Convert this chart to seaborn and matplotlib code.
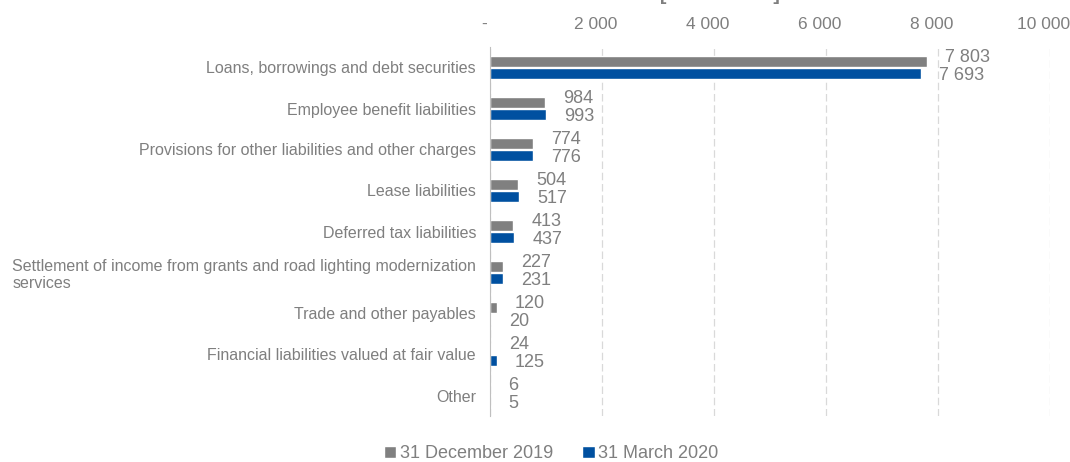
import pandas as pd
import seaborn as sns
import matplotlib.pyplot as plt
from matplotlib.transforms import ScaledTranslation

categories = [
    'Loans, borrowings and debt securities',
    'Employee benefit liabilities',
    'Provisions for other liabilities and other charges',
    'Lease liabilities',
    'Deferred tax liabilities',
    'Settlement of income from grants and road lighting modernization\nservices',
    'Trade and other payables',
    'Financial liabilities valued at fair value',
    'Other',
]
dec_2019 = [7803, 984, 774, 504, 413, 227, 120, 24, 6]
mar_2020 = [7693, 993, 776, 517, 437, 231, 20, 125, 5]
series = ['31 December 2019', '31 March 2020']
xticks = [0, 2000, 4000, 6000, 8000, 10000]
title = 'Structure of non-current liabilities [PLN million]'

GRAY_TXT = '#7f7f7f'
colors = ['#808080', '#0050a0']


def fmt(v):
    return '-' if v == 0 else f'{v:,.0f}'.replace(',', ' ')


df = pd.DataFrame({
    'category': categories * 2,
    'series': [series[0]] * len(categories) + [series[1]] * len(categories),
    'value': dec_2019 + mar_2020,
})

sns.set_style('white')
plt.rcParams['font.family'] = ['Liberation Sans', 'DejaVu Sans']

fig = plt.figure(figsize=(10.7, 4.62), dpi=100)
ax = fig.add_axes([490 / 1070, 1 - 416 / 462, 560 / 1070, 369 / 462])

sns.barplot(data=df, x='value', y='category', hue='series', hue_order=series,
            order=categories, palette=colors, orient='h', width=0.6, gap=0.15,
            saturation=1, ax=ax)

# value labels next to bars: gray one nudged up, blue one nudged down
for cont, vals, dy in zip(ax.containers, [dec_2019, mar_2020], [2.5, -1.5]):
    for patch, v in zip(cont.patches, vals):
        y = patch.get_y() + patch.get_height() / 2
        ax.annotate(fmt(v), xy=(patch.get_width(), y), xytext=(13, dy),
                    textcoords='offset points', ha='left', va='center',
                    fontsize=13, color=GRAY_TXT)

ax.set_xlim(0, 10000)
ax.set_ylim(len(categories) - 0.5, -0.5)
ax.set_xticks(xticks)
ax.set_xticklabels([fmt(v) for v in xticks])
ax.xaxis.tick_top()
ax.tick_params(axis='x', length=0, pad=11, labelsize=12.5, labelcolor=GRAY_TXT)
ax.tick_params(axis='y', length=0, pad=10, labelsize=11.5, labelcolor=GRAY_TXT)
shift = ScaledTranslation(-6 / 100, 0, fig.dpi_scale_trans)
for lab in ax.get_xticklabels():
    lab.set_transform(lab.get_transform() + shift)
for lab in ax.get_yticklabels():
    lab.set_multialignment('left')

ax.grid(axis='x', color='#d9d9d9', linestyle=(0, (6, 3)), linewidth=0.9)
ax.set_axisbelow(True)
for side in ['top', 'right', 'bottom']:
    ax.spines[side].set_visible(False)
ax.spines['left'].set_color('#bfbfbf')
ax.set_xlabel('')
ax.set_ylabel('')

handles, labels = ax.get_legend_handles_labels()
ax.get_legend().remove()
fig.legend(handles, labels, loc='lower center', bbox_to_anchor=(0.515, -0.036),
           ncol=2, frameon=False, fontsize=13, labelcolor=GRAY_TXT,
           handlelength=0.7, handleheight=0.7, handletextpad=0.2,
           columnspacing=1.6)

fig.text(0.523, 1.001, title, ha='center', va='baseline', fontsize=14,
         fontweight='bold', color=GRAY_TXT)

fig.savefig('out.png', dpi=100)
